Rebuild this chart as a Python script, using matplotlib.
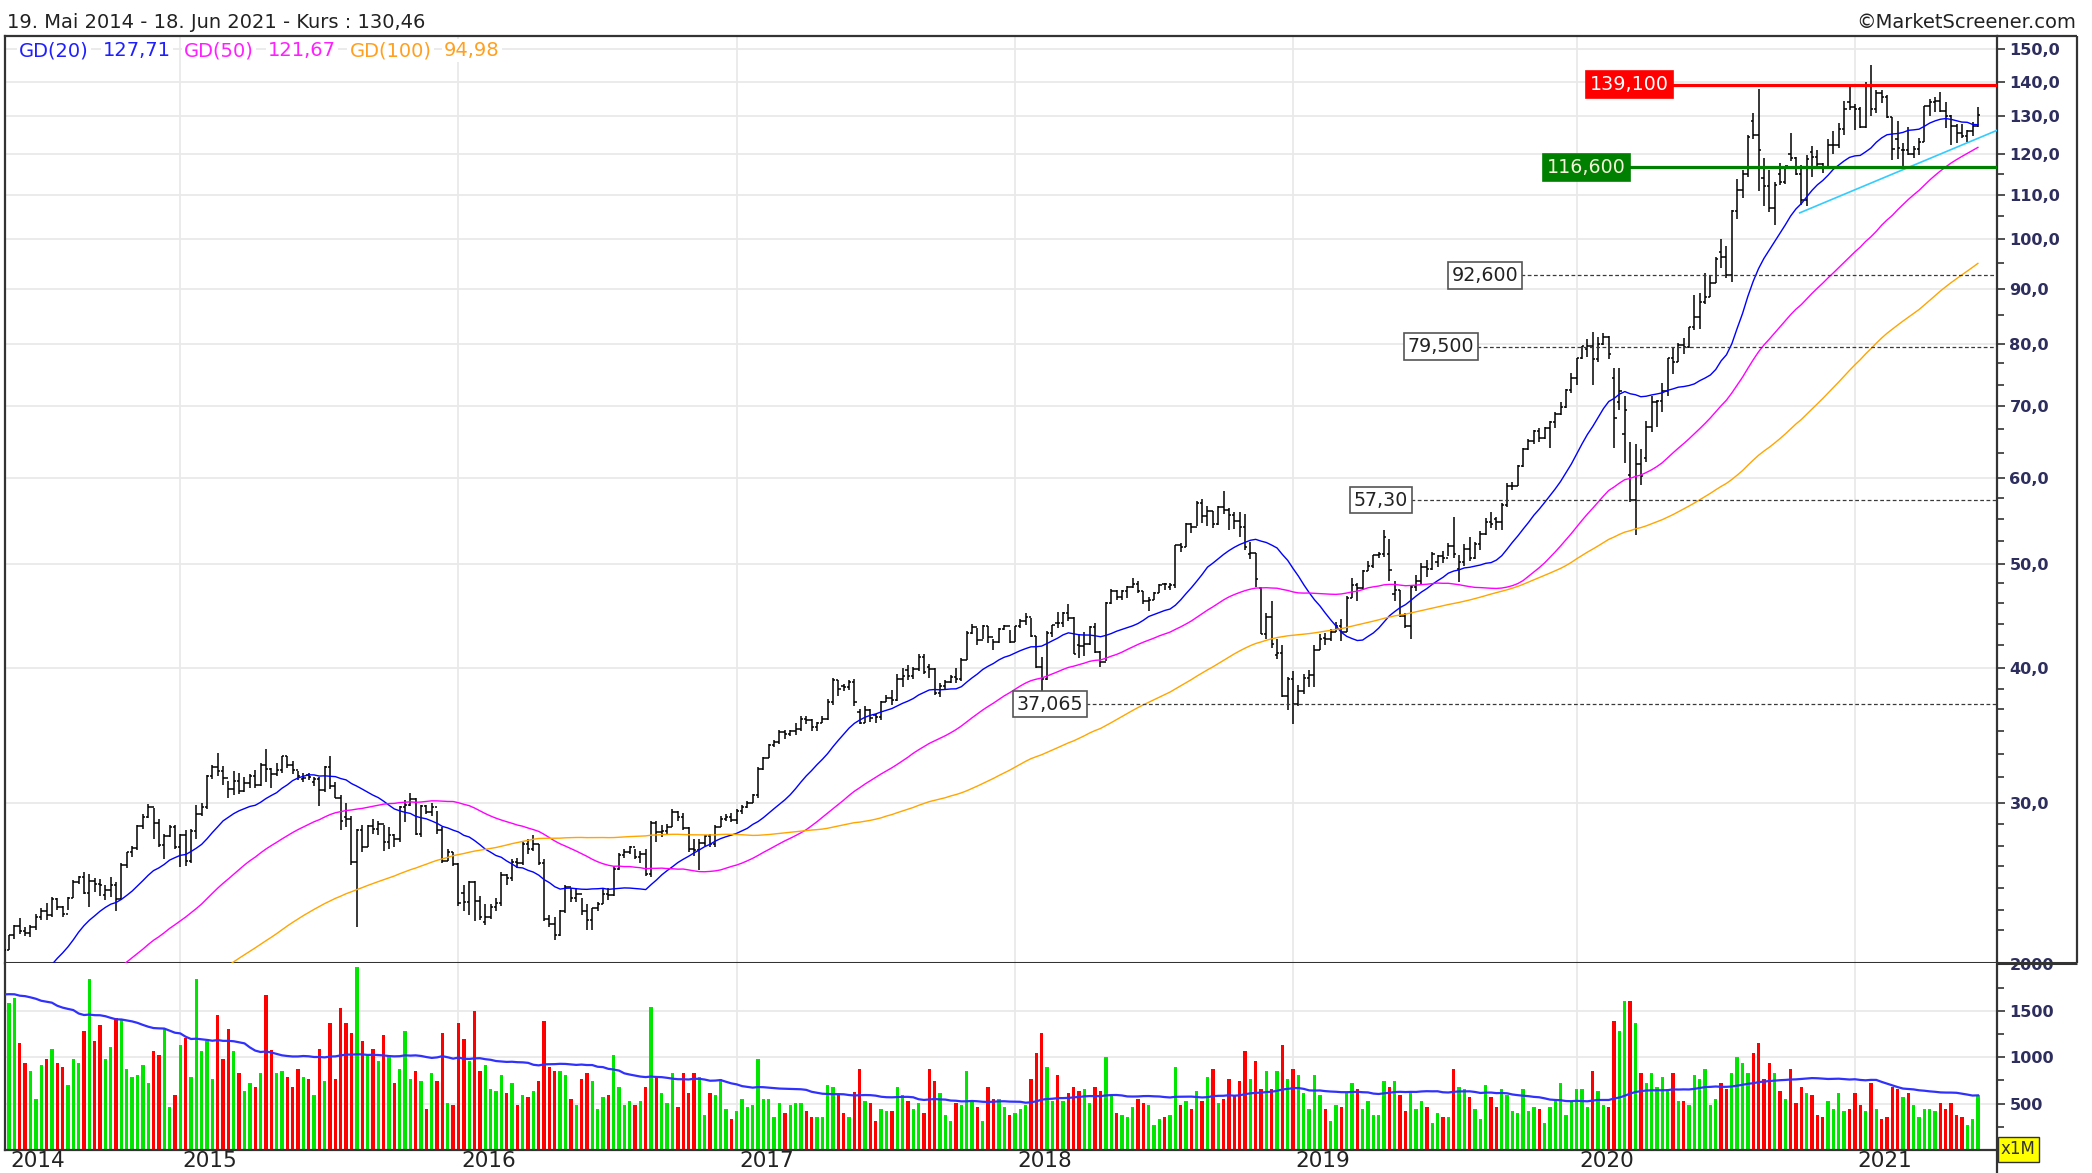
import numpy as np
import pandas as pd
import matplotlib
matplotlib.use("Agg")
import matplotlib.pyplot as plt
from matplotlib.collections import LineCollection
from matplotlib.lines import Line2D
from matplotlib.ticker import NullFormatter

# Wochenbalken 19.05.2014 - 18.06.2021 (Kurs, Volumen in Mio.)
close = [
    21.93, 22.61, 23.06, 22.82, 22.73, 23.00, 23.51, 23.81, 23.61, 24.42,
    24.03, 23.69, 24.50, 25.33, 25.63, 24.74, 25.42, 25.24, 25.19, 24.91,
    25.18, 24.42, 26.31, 27.00, 27.25, 28.55, 29.12, 29.73, 28.75, 27.43,
    27.95, 28.50, 27.33, 28.00, 26.50, 28.25, 29.29, 29.73, 31.77, 32.38,
    32.12, 31.65, 30.90, 31.48, 30.81, 31.33, 31.78, 31.19, 32.57, 32.24,
    31.91, 32.19, 33.14, 32.57, 32.16, 31.79, 31.65, 31.69, 31.61, 30.82,
    32.41, 31.13, 30.33, 28.88, 28.99, 26.44, 28.32, 27.32, 28.55, 28.36,
    28.68, 27.60, 28.03, 27.76, 29.77, 29.88, 30.27, 28.09, 29.83, 29.45,
    29.76, 28.30, 26.51, 27.01, 26.32, 24.24, 24.28, 25.36, 24.34, 23.51,
    23.50, 24.01, 24.23, 25.75, 25.57, 26.48, 26.42, 27.50, 27.17, 27.46,
    26.42, 23.44, 23.18, 22.63, 23.81, 25.09, 24.48, 24.71, 23.83, 23.35,
    23.97, 24.17, 24.70, 24.67, 26.05, 26.87, 27.05, 27.34, 26.74, 26.93,
    25.78, 28.73, 28.18, 28.26, 28.52, 29.41, 29.15, 28.43, 27.21, 27.11,
    27.52, 27.95, 27.48, 28.49, 28.99, 29.13, 28.96, 29.48, 29.76, 30.00,
    30.49, 32.27, 33.03, 33.93, 34.17, 34.95, 34.79, 35.00, 35.16, 35.92,
    35.84, 35.26, 35.57, 35.91, 37.24, 39.03, 38.27, 38.40, 38.86, 37.25,
    35.57, 36.57, 36.01, 36.05, 37.26, 37.57, 37.38, 39.10, 39.37, 39.38,
    39.97, 41.01, 39.66, 39.97, 37.97, 38.53, 38.83, 39.25, 39.06, 40.76,
    43.13, 43.67, 42.54, 43.74, 42.76, 42.34, 43.49, 43.75, 42.31, 43.75,
    44.27, 44.62, 42.88, 40.13, 39.10, 43.11, 43.88, 44.05, 45.00, 44.51,
    41.24, 41.95, 42.10, 43.68, 41.43, 40.58, 45.96, 47.15, 46.58, 47.15,
    47.56, 47.93, 47.21, 46.23, 46.28, 46.99, 47.83, 47.86, 47.75, 52.00,
    51.88, 54.40, 54.04, 56.91, 55.33, 55.96, 54.42, 56.44, 56.07, 55.53,
    54.83, 54.08, 51.87, 51.12, 48.38, 43.07, 44.65, 42.12, 41.37, 37.68,
    39.06, 37.07, 38.07, 39.21, 39.44, 41.63, 42.60, 42.61, 43.24, 43.74,
    43.23, 46.53, 47.76, 47.49, 49.25, 49.72, 50.97, 51.08, 52.94, 49.30,
    47.25, 44.74, 43.77, 47.54, 48.19, 49.70, 49.48, 51.06, 50.83, 50.65,
    51.94, 51.01, 50.25, 51.63, 50.66, 52.19, 53.32, 54.69, 54.43, 54.71,
    56.75, 59.05, 59.10, 61.65, 63.96, 65.04, 66.44, 65.45, 66.81, 67.68,
    68.79, 69.86, 72.45, 74.36, 77.58, 79.68, 79.58, 77.38, 80.01, 81.24,
    78.26, 68.34, 72.26, 69.49, 57.31, 61.94, 60.35, 67.00, 70.70, 70.74,
    72.27, 77.53, 76.93, 79.72, 79.49, 82.88, 84.70, 87.43, 88.41, 91.03,
    95.92, 96.33, 92.62, 106.26, 111.11, 114.91, 124.37, 124.81, 120.96, 112.00,
    106.84, 112.28, 113.02, 116.97, 119.02, 115.04, 108.86, 118.69, 119.26, 117.34,
    116.59, 122.25, 122.41, 126.66, 131.97, 132.69, 132.05, 127.14, 139.07, 131.96,
    136.76, 135.37, 129.87, 121.26, 121.42, 121.03, 119.99, 121.21, 123.00, 133.00,
    134.16, 134.32, 131.46, 130.21, 127.45, 125.43, 124.61, 125.89, 127.35, 130.46,
]
high = [
    22.0, 22.65, 23.14, 23.47, 23.0, 23.1, 23.65, 24.0, 24.24, 24.53,
    24.5, 24.1, 24.55, 25.45, 25.7, 25.9, 25.77, 25.58, 25.53, 25.2,
    25.6, 25.35, 26.4, 27.05, 27.35, 28.65, 29.3, 29.94, 29.7, 29.0,
    28.1, 28.63, 28.6, 28.1, 28.3, 28.4, 29.9, 30.0, 31.85, 32.54,
    33.4, 32.45, 31.45, 32.1, 32.0, 31.7, 31.9, 32.2, 32.7, 33.64,
    32.3, 32.7, 33.2, 33.2, 32.8, 32.1, 32.0, 32.0, 31.75, 31.7,
    32.5, 33.2, 31.35, 30.5, 30.0, 29.2, 28.4, 28.65, 28.65, 29.0,
    28.9, 28.6, 28.5, 28.1, 29.8, 30.2, 30.64, 30.3, 29.9, 29.9,
    30.0, 29.5, 28.5, 27.2, 27.05, 26.4, 25.2, 25.4, 25.4, 24.6,
    24.2, 24.2, 24.5, 25.9, 25.8, 26.6, 26.7, 27.6, 27.8, 28.05,
    27.5, 26.6, 23.6, 23.5, 23.9, 25.2, 25.0, 25.0, 24.5, 24.2,
    24.0, 24.3, 25.0, 25.0, 26.2, 26.95, 27.2, 27.4, 27.2, 27.1,
    27.2, 28.85, 28.9, 28.6, 28.7, 29.6, 29.5, 29.4, 28.5, 27.8,
    27.8, 28.05, 28.1, 28.6, 29.2, 29.3, 29.4, 29.6, 29.9, 30.1,
    30.6, 32.4, 33.1, 34.0, 34.3, 35.1, 35.1, 35.1, 35.6, 36.1,
    36.1, 35.9, 35.7, 36.1, 37.5, 39.2, 39.0, 38.7, 39.0, 39.1,
    36.7, 36.9, 36.7, 36.3, 37.3, 37.8, 38.2, 39.5, 40.0, 40.3,
    40.1, 41.2, 41.2, 40.4, 40.0, 38.8, 39.0, 39.4, 40.0, 40.9,
    43.3, 44.0, 43.6, 43.9, 43.8, 42.6, 43.6, 43.9, 43.4, 43.8,
    44.4, 45.0, 44.5, 42.9, 41.0, 43.3, 43.9, 45.15, 45.1, 45.9,
    44.6, 43.0, 43.2, 43.8, 44.1, 41.5, 46.1, 47.4, 47.3, 47.3,
    47.7, 48.5, 48.2, 47.2, 46.6, 47.1, 47.9, 48.0, 48.0, 52.1,
    52.3, 54.5, 54.5, 57.2, 57.4, 56.6, 56.0, 56.6, 58.37, 56.3,
    55.8, 55.8, 55.6, 52.4, 51.2, 47.6, 45.0, 46.2, 42.6, 42.0,
    39.3, 39.8, 38.6, 39.5, 39.9, 42.0, 43.0, 43.1, 43.5, 44.2,
    44.4, 46.7, 48.5, 48.0, 49.3, 50.3, 51.0, 51.3, 53.8, 52.7,
    48.2, 47.3, 45.0, 47.7, 48.8, 50.1, 50.4, 51.3, 51.0, 51.4,
    52.3, 55.3, 50.9, 52.2, 53.0, 52.4, 53.6, 55.2, 55.9, 55.3,
    56.9, 59.4, 59.5, 61.7, 64.1, 65.3, 66.6, 66.8, 66.9, 67.8,
    69.2, 70.6, 72.7, 75.1, 77.6, 79.7, 80.8, 81.96, 81.2, 81.8,
    81.3, 76.0, 75.9, 71.6, 64.8, 64.6, 63.9, 67.9, 71.6, 71.0,
    73.6, 77.6, 79.3, 80.2, 81.0, 83.0, 88.7, 89.1, 93.1, 92.6,
    96.3, 99.95, 98.5, 106.4, 113.7, 116.0, 124.9, 131.0, 137.98, 118.99,
    115.9, 112.9, 117.7, 117.0, 125.39, 119.1, 117.3, 119.6, 121.99, 120.99,
    117.6, 123.8, 125.95, 128.3, 134.4, 138.79, 133.6, 132.6, 139.85, 145.09,
    137.4, 137.4, 136.0, 129.7, 128.7, 122.9, 127.2, 122.0, 124.2, 133.0,
    135.0, 135.5, 137.07, 134.1, 130.3, 128.0, 128.0, 126.3, 128.46, 132.55,
]
low = [
    21.3, 21.9, 22.45, 22.7, 22.6, 22.55, 22.9, 23.35, 23.35, 23.5,
    23.9, 23.5, 23.9, 24.5, 25.25, 24.7, 24.04, 24.8, 24.6, 24.4,
    24.55, 23.8, 24.4, 26.1, 26.75, 27.15, 28.4, 29.05, 27.8, 27.3,
    26.6, 27.9, 27.2, 26.16, 26.2, 26.4, 27.8, 29.2, 29.6, 31.6,
    31.8, 31.2, 30.3, 30.5, 30.6, 30.7, 31.0, 31.0, 31.1, 31.4,
    31.0, 31.8, 32.0, 32.3, 31.9, 31.5, 31.4, 31.5, 31.1, 29.8,
    30.7, 30.9, 30.3, 28.3, 28.5, 26.3, 23.0, 27.0, 27.3, 28.1,
    28.0, 27.1, 27.2, 27.3, 27.6, 28.8, 29.8, 28.0, 27.9, 29.3,
    29.2, 28.1, 26.4, 26.5, 26.2, 24.1, 23.8, 23.6, 23.3, 23.35,
    23.1, 23.4, 23.8, 24.1, 25.2, 25.4, 26.1, 26.3, 26.9, 27.1,
    26.3, 23.3, 23.0, 22.4, 22.6, 23.7, 24.3, 24.3, 23.6, 22.9,
    22.9, 23.8, 24.2, 24.4, 24.6, 26.0, 26.7, 26.9, 26.6, 26.4,
    25.7, 25.6, 27.6, 27.9, 28.1, 28.5, 28.9, 28.3, 27.0, 26.8,
    26.0, 27.4, 27.3, 27.3, 28.5, 28.9, 28.8, 28.7, 29.3, 29.7,
    30.0, 30.3, 32.2, 33.0, 33.8, 34.0, 34.4, 34.6, 34.7, 35.0,
    35.5, 35.0, 35.0, 35.6, 35.8, 37.0, 37.7, 38.1, 38.2, 36.9,
    35.5, 35.6, 35.7, 35.6, 35.8, 37.2, 37.0, 37.3, 38.4, 39.0,
    39.1, 39.8, 39.5, 39.2, 37.8, 37.6, 38.2, 38.8, 38.8, 38.9,
    40.7, 43.0, 42.0, 42.6, 42.2, 41.6, 42.2, 43.4, 42.2, 42.3,
    43.6, 43.9, 42.8, 40.0, 37.56, 39.0, 42.8, 43.6, 43.7, 44.3,
    41.2, 40.9, 41.1, 42.0, 41.3, 40.1, 40.6, 45.9, 46.3, 46.3,
    46.5, 47.5, 47.0, 45.9, 45.2, 46.3, 47.0, 47.3, 47.3, 47.5,
    51.3, 51.8, 53.4, 54.2, 54.6, 54.2, 54.0, 54.3, 55.6, 53.8,
    53.9, 53.0, 51.5, 50.5, 47.6, 43.0, 42.6, 41.8, 40.8, 37.6,
    36.6, 35.5, 36.9, 37.9, 38.4, 38.4, 41.6, 42.0, 42.4, 43.2,
    42.4, 43.2, 46.5, 46.2, 47.3, 49.2, 49.6, 50.6, 50.7, 48.2,
    46.2, 44.6, 43.6, 42.6, 47.2, 47.9, 48.6, 49.4, 49.7, 50.1,
    50.8, 50.6, 48.15, 49.8, 50.3, 50.5, 51.5, 53.2, 54.0, 53.8,
    53.8, 56.5, 58.6, 59.0, 61.5, 63.7, 64.6, 64.9, 65.3, 64.1,
    66.8, 68.7, 69.8, 72.0, 73.2, 77.4, 77.7, 73.2, 76.9, 79.8,
    77.5, 64.1, 69.4, 62.0, 57.0, 53.15, 59.2, 62.2, 66.2, 67.0,
    69.2, 71.6, 75.0, 76.9, 78.3, 79.3, 82.3, 82.5, 87.0, 88.4,
    91.0, 94.0, 92.0, 91.3, 104.5, 109.1, 114.1, 123.9, 110.9, 107.3,
    106.1, 103.1, 112.2, 112.6, 118.1, 114.6, 107.7, 107.3, 114.1, 116.8,
    115.2, 116.2, 120.0, 121.5, 125.0, 131.7, 126.4, 126.9, 126.9, 130.2,
    130.9, 133.7, 129.5, 118.4, 118.6, 116.2, 119.7, 118.9, 119.8, 123.1,
    130.2, 131.3, 131.1, 126.7, 122.25, 122.8, 124.2, 123.1, 124.8, 127.1,
]
volume = [
    1600, 1589, 1635, 1157, 942, 855, 550, 916, 981, 1089,
    942, 898, 701, 981, 942, 1283, 1844, 1175, 1351, 981,
    1110, 1420, 1412, 870, 791, 809, 916, 726, 1067, 1024,
    1305, 464, 593, 1132, 1208, 787, 1844, 1067, 1175, 766,
    1456, 981, 1308, 1067, 834, 636, 726, 679, 834, 1675,
    1078, 834, 855, 787, 683, 873, 787, 766, 593, 1089,
    744, 1373, 766, 1527, 1373, 1265, 1977, 1175, 1024, 1089,
    960, 1240, 1024, 726, 870, 1283, 766, 855, 744, 446,
    834, 744, 1265, 510, 485, 1373, 1197, 960, 1499, 855,
    916, 658, 636, 809, 618, 726, 485, 593, 571, 636,
    748, 1394, 899, 855, 855, 809, 550, 485, 769, 834,
    748, 446, 571, 593, 1024, 679, 485, 532, 485, 532,
    683, 1545, 791, 618, 510, 834, 467, 834, 618, 834,
    791, 377, 618, 593, 766, 446, 334, 424, 550, 467,
    485, 981, 550, 550, 359, 510, 403, 485, 510, 510,
    424, 359, 359, 359, 701, 679, 604, 403, 359, 622,
    877, 532, 510, 316, 446, 424, 424, 679, 593, 532,
    446, 510, 403, 877, 748, 618, 377, 316, 510, 485,
    855, 532, 467, 316, 679, 550, 550, 467, 377, 403,
    446, 485, 769, 1049, 1265, 899, 532, 809, 532, 618,
    679, 636, 658, 510, 679, 636, 1006, 593, 403, 377,
    359, 467, 550, 510, 485, 270, 338, 359, 377, 899,
    485, 532, 446, 636, 532, 791, 877, 510, 550, 769,
    593, 748, 1071, 769, 963, 658, 855, 658, 855, 1132,
    769, 877, 809, 618, 446, 809, 593, 446, 316, 485,
    467, 618, 726, 658, 446, 532, 377, 377, 748, 683,
    748, 593, 424, 618, 446, 532, 467, 295, 403, 359,
    359, 877, 679, 658, 575, 446, 338, 701, 575, 467,
    658, 593, 424, 403, 658, 424, 467, 446, 295, 467,
    550, 726, 377, 532, 658, 658, 467, 855, 636, 485,
    467, 1394, 1283, 1610, 1610, 1373, 834, 726, 834, 679,
    791, 658, 834, 532, 532, 485, 809, 769, 877, 485,
    550, 726, 658, 834, 1006, 942, 834, 1049, 1157, 769,
    942, 834, 636, 550, 877, 510, 679, 618, 593, 377,
    359, 532, 446, 618, 424, 446, 618, 485, 424, 726,
    446, 338, 359, 679, 658, 571, 618, 485, 359, 446,
    446, 424, 510, 446, 510, 381, 359, 270, 338, 593,
]
first_open = 21.34
# Wochen, deren Eroeffnung vom Vorwochenschluss abweicht
open_gaps = {19: 24.66, 56: 31.55, 57: 31.85, 58: 31.37, 64: 29.13, 86: 24.74,
             90: 23.28, 157: 38.50, 160: 36.43, 163: 36.22, 169: 39.83, 173: 40.13,
             197: 44.09, 201: 42.02, 217: 47.90, 218: 47.60, 233: 51.05, 235: 47.50,
             238: 41.18, 247: 42.70, 259: 51.07, 260: 46.93, 268: 50.20, 272: 49.50,
             279: 55.00, 296: 79.10, 301: 74.32, 302: 70.57, 303: 65.94, 304: 60.49,
             307: 62.72, 321: 97.30, 327: 128.70, 329: 113.95, 332: 115.01,
             334: 120.06, 338: 120.50, 345: 133.99, 354: 123.75, 355: 120.93}

# Wochen vor dem Fenster, nur fuer die gleitenden Durchschnitte
hist_close = [
    15.81, 15.11, 15.35, 13.95, 14.45, 15.62, 15.73, 15.02, 15.45, 15.61,
    15.33, 14.74, 14.32, 13.71, 14.46, 14.78, 14.73, 15.62, 16.07, 15.78,
    17.45, 17.44, 16.95, 17.34, 16.15, 16.24, 16.79, 16.80, 17.15, 17.72,
    18.39, 17.54, 17.56, 17.72, 17.53, 18.83, 18.97, 18.77, 18.58, 18.97,
    18.29, 18.00, 18.28, 18.47, 16.85, 17.53, 18.40, 17.95, 17.76, 18.58,
    18.38, 18.67, 18.81, 18.63, 18.20, 18.39, 20.07, 20.80, 20.55, 20.98,
]
hist_volume = [
    1450, 1700, 1900, 1200, 1500, 1300, 2000, 1500, 1600, 2600,
    1900, 1400, 1600, 2800, 2100, 1600, 1500, 1400, 1500, 2000,
    2200, 1500, 1400, 1300, 1600, 2000, 1700, 1800, 1200, 1400,
    1600, 1700, 1500, 3000, 2000, 1700, 1400, 1500, 1200, 1100,
    1400, 1300, 1300, 1400, 1200, 2900, 2400, 1600, 1400,
]

ma_periods = [20, 50, 100]
ma_last = ["127,71", "121,67", "94,98"]

year_labels = ["2014", "2015", "2016", "2017", "2018", "2019", "2020", "2021"]
year_weeks = [0, 33, 85, 137, 189, 241, 294, 346]

level_values = [139.1, 116.6, 92.6, 79.5, 57.3, 37.065]
level_labels = ["139,100", "116,600", "92,600", "79,500", "57,30", "37,065"]

trend_weeks = [335.7, 372.6]
trend_prices = [105.8, 126.2]

# ---------------- Layout ----------------
W, H = 2092, 1173
fig = plt.figure(figsize=(W / 100, H / 100), dpi=100)


def fx(px):
    return px / W


def fy(py):
    return 1 - py / H


FRAME = "#333333"
GRID = "#e9e9e9"
LABEL = "#2e2e5e"

ax = fig.add_axes([fx(5), fy(963), fx(1997) - fx(5), fy(36) - fy(963)])
axv = fig.add_axes([fx(5), fy(1150), fx(1997) - fx(5), fy(963) - fy(1150)])

n = len(close)
x = np.arange(n)
xlim = (0.234, 372.57)

opens = np.array([first_open] + close[:-1], dtype=float)
for k, v in open_gaps.items():
    opens[k] = v

# Kurs-Panel
ax.set_yscale("log")
ax.set_xlim(*xlim)
ax.set_ylim(21.32, 154.35)

for w in year_weeks[1:]:
    ax.axvline(w, color=GRID, lw=1.3, zorder=0)
    axv.axvline(w, color=GRID, lw=1.3, zorder=0)
majors = [30, 40, 50, 60, 70, 80, 90, 100, 110, 120, 130, 140, 150]
minors = [22.9, 23.9, 25.0, 26.2, 27.4, 28.7, 31.7, 33.3, 35.0, 36.7, 38.3,
          42, 44, 46, 48, 52.5, 55, 57.5, 63.3, 66.7, 73.3, 76.7, 85, 95, 105, 115]
for v in majors:
    ax.axhline(v, color=GRID, lw=1.3, zorder=0)

segs = []
for i in range(n):
    segs.append([(i, low[i]), (i, high[i])])
    segs.append([(i - 0.45, opens[i]), (i, opens[i])])
    segs.append([(i, close[i]), (i + 0.45, close[i])])
ax.add_collection(LineCollection(segs, colors="black", linewidths=1.1,
                                 capstyle="butt", zorder=3))

all_close = pd.Series(hist_close + close)
ma_colors = ["#0000ff", "#ff00ff", "#ffa500"]
for p, c in zip(ma_periods, ma_colors):
    ma = all_close.rolling(p).mean().to_numpy()[len(hist_close):]
    ax.plot(x, ma, color=c, lw=1.0, zorder=4)

ax.plot(trend_weeks, trend_prices, color="#33ccff", lw=1.2, zorder=4)

# Niveaus
for i, (val, lab) in enumerate(zip(level_values, level_labels)):
    start = [311.8, 303.8, 283.6, 275.4, 263.0, 202.3][i]
    if i == 0:
        lc, fc, tc, ec, ls, lw = "#ff0000", "#ff0000", "white", "#ff0000", "-", 2.3
    elif i == 1:
        lc, fc, tc, ec, ls, lw = "#008000", "#008000", "#f4f4d8", "#008000", "-", 2.3
    else:
        lc, fc, tc, ec, ls, lw = "#3a3a3a", "white", "#222222", "#555555", (0, (3, 2)), 0.9
    ax.plot([start, xlim[1]], [val, val], color=lc, lw=lw, ls=ls, zorder=5)
    ax.text(start - 0.55, val, lab, ha="right", va="center", fontsize=13.7,
            color=tc, zorder=6,
            bbox=dict(boxstyle="square,pad=0.2", fc=fc, ec=ec, lw=1.2))

ax.yaxis.tick_right()
ax.set_yticks(majors)
ax.set_yticklabels([f"{v:.1f}".replace(".", ",") for v in majors])
ax.set_yticks(minors, minor=True)
ax.yaxis.set_minor_formatter(NullFormatter())
ax.tick_params(axis="y", which="major", direction="out", length=6, width=1.2,
               color=FRAME, pad=3, labelsize=11.6, labelcolor=LABEL)
ax.tick_params(axis="y", which="minor", direction="out", length=5, width=1.2,
               color=FRAME)
for lab in ax.get_yticklabels():
    lab.set_fontweight("bold")
ax.tick_params(axis="x", which="both", bottom=False, labelbottom=False)
for side in ["left", "top", "right"]:
    ax.spines[side].set_color(FRAME)
    ax.spines[side].set_linewidth(1.6)
ax.spines["bottom"].set_color(FRAME)
ax.spines["bottom"].set_linewidth(2.2)

# Volumen-Panel
axv.set_xlim(*xlim)
axv.set_ylim(0, 2016)
for v in (500, 1000, 1500):
    axv.axhline(v, color=GRID, lw=1.3, zorder=0)
up = np.array(close) >= opens
axv.bar(x, volume, width=0.62, color=np.where(up, "#00e600", "#ff0000"),
        linewidth=0, zorder=2)
vol_ma = pd.Series(hist_volume + volume).rolling(50).mean().to_numpy()[len(hist_volume):]
axv.plot(x, vol_ma, color="#3030ff", lw=1.6, zorder=3)

axv.yaxis.tick_right()
axv.set_yticks([500, 1000, 1500, 2000])
axv.set_yticklabels(["500", "1000", "1500", "2000"])
axv.set_yticks([250, 750, 1250, 1750], minor=True)
axv.yaxis.set_minor_formatter(NullFormatter())
axv.tick_params(axis="y", which="major", direction="out", length=6, width=1.2,
                color=FRAME, pad=3, labelsize=11.6, labelcolor=LABEL)
axv.tick_params(axis="y", which="minor", direction="out", length=5, width=1.2,
                color=FRAME)
for lab in axv.get_yticklabels():
    lab.set_fontweight("bold")

label_pos = [1.2] + [w + 0.45 for w in year_weeks[1:]]
axv.set_xticks(label_pos)
axv.set_xticklabels(year_labels)
axv.tick_params(axis="x", length=0, pad=1, labelsize=15.5, labelcolor="#222222")
for lab in axv.get_xticklabels():
    lab.set_ha("left")
axv.spines["top"].set_visible(False)
for side in ["left", "bottom", "right"]:
    axv.spines[side].set_color(FRAME)
    axv.spines[side].set_linewidth(1.6)

# Rahmen rechts neben der Skala
def fig_line(xs, ys, lw):
    fig.add_artist(Line2D([fx(v) for v in xs], [fy(v) for v in ys], color=FRAME,
                          lw=lw, transform=fig.transFigure, solid_capstyle="butt"))


fig_line([1997, 2077], [36, 36], 1.6)
fig_line([1997, 2077], [963, 963], 2.2)
fig_line([2077, 2077], [36, 963], 1.6)
fig_line([1997, 1997], [1150, 1173], 1.6)

# Texte
fig.text(fx(7), fy(22), "19. Mai 2014 - 18. Jun 2021 - Kurs : 130,46",
         fontsize=14, color="#222222", ha="left", va="center")
fig.text(fx(2076), fy(22), "\u00a9MarketScreener.com", fontsize=14,
         color="#222222", ha="right", va="center")

legend_x = [18.7, 102.7, 184, 268, 349.5, 444]
legend_items = []
for p, val, c in zip(ma_periods, ma_last, ["#2020ff", "#ff20ff", "#ffa020"]):
    legend_items += [(f"GD({p})", c), (val, c)]
for px, (s, c) in zip(legend_x, legend_items):
    fig.text(fx(px), fy(50.7), s, fontsize=14, color=c, ha="left", va="center",
             bbox=dict(facecolor="white", edgecolor="none", pad=1.5))

fig.text(fx(2001), fy(1149.5), "x1M", fontsize=12, color="#333333",
         ha="left", va="center",
         bbox=dict(boxstyle="square,pad=0.2", facecolor="#ffff00",
                   edgecolor="#333333", lw=1))

fig.savefig("out.png", dpi=100, facecolor="white")
